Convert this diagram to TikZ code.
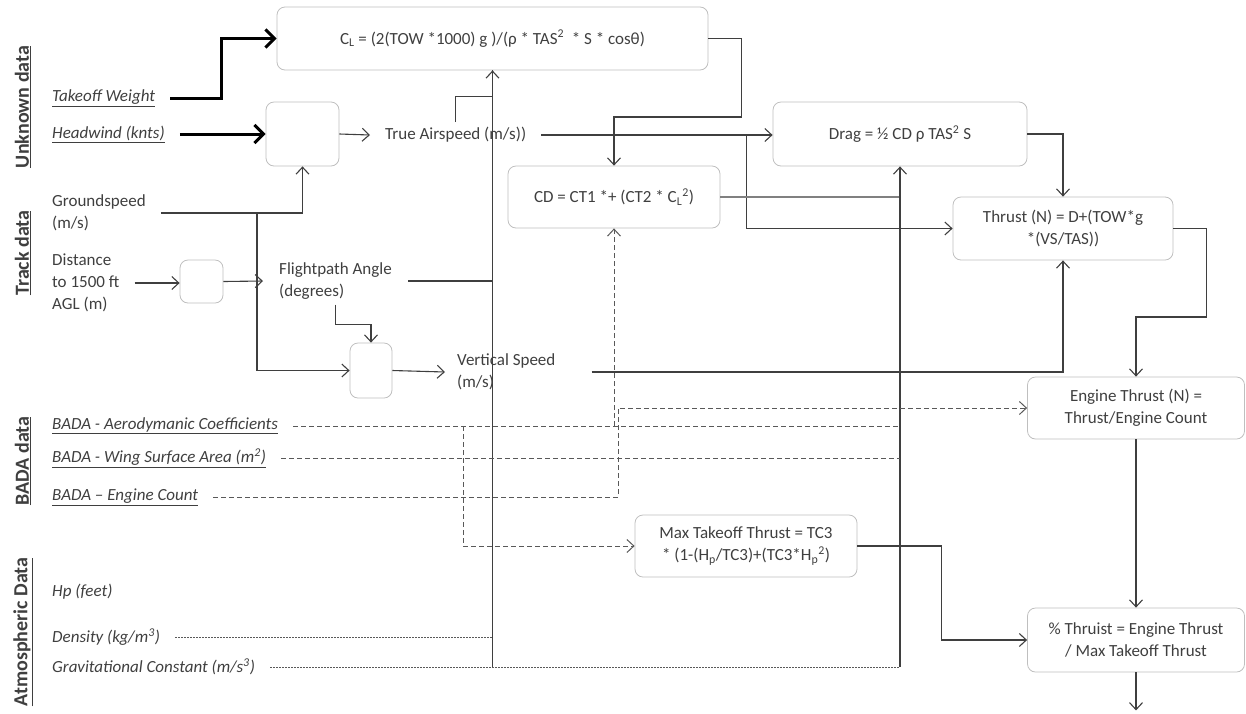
\documentclass[tikz,border=0pt]{standalone}
\usepackage{fontspec}
\setmainfont{Carlito}
\usetikzlibrary{positioning,arrows.meta}
\usepackage{xcolor}
\definecolor{inkgray}{HTML}{3F3F3F}
\definecolor{boxgray}{HTML}{BFBFBF}
\definecolor{dashgray}{HTML}{595959}

\begin{document}
\begin{tikzpicture}[
  x=1pt, y=-1pt,
  font=\fontsize{17}{22}\selectfont, text=inkgray,
  box/.style={draw=boxgray, line width=0.8pt, rounded corners=8pt,
              align=center, inner sep=0pt},
  src/.style={anchor=west, align=left, inner xsep=15pt, inner ysep=3pt},
  lbl/.style={anchor=west, align=left, inner ysep=5pt},
  grp/.style={rotate=90, font=\fontsize{20}{24}\selectfont\bfseries},
  ln/.style={line width=1.1pt, draw=inkgray},
  arr/.style={ln, -{Straight Barb[length=7pt,width=13pt]}},
  thk/.style={line width=3pt, draw=black, -{Straight Barb[length=9pt,width=18pt]}},
  dsh/.style={line width=1pt, draw=dashgray, dash pattern=on 5pt off 3pt},
  darr/.style={dsh, -{Straight Barb[length=7pt,width=13pt]}},
  dot/.style={line width=1pt, draw=dashgray, dash pattern=on 2pt off 1pt}
]
  \useasboundingbox (0,0) rectangle (1246,713);

  % Group labels
  \node[grp] (gunk)  at (23,107) {\underline{Unknown data}};
  \node[grp] (gtrk)  at (23,253) {\underline{Track data}};
  \node[grp] (gbada) at (23,461) {\underline{BADA data}};
  \node[grp] (gatm)  at (23,632) {\underline{Atmospheric Data}};

  % Inputs
  \node[src] (tow)  at (37,98)  {\underline{\textit{Takeoff Weight}}};
  \node[src] (hw)   at (37,134) {\underline{\textit{Headwind (knts)}}};
  \node[src] (gs)   at (37,213) {Groundspeed\\(m/s)};
  \node[src] (dist) at (37,283) {Distance\\to 1500 ft\\AGL (m)};
  \node[src] (aero) at (37,426) {\underline{\textit{BADA - Aerodymanic Coefficients}}};
  \node[src] (wing) at (37,458) {\underline{\textit{BADA - Wing Surface Area (m\textsuperscript{2})}}};
  \node[src] (engc) at (37,497) {\underline{\textit{BADA -- Engine Count}}};
  \node[src] (hp)   at (37,592) {\textit{Hp (feet)}};
  \node[src] (dens) at (37,637) {\textit{Density (kg/m\textsuperscript{3})}};
  \node[src] (grav) at (37,667) {\textit{Gravitational Constant (m/s\textsuperscript{3})}};

  % Blocks
  \node[box, minimum width=431pt, minimum height=63pt] (cl) at (492.5,38.5)
    {C\textsubscript{L} = (2(TOW *1000) g )/(ρ * TAS\textsuperscript{2}\ \ * S * cosθ)};
  \node[box, minimum width=73pt, minimum height=64pt] (box1) at (302.5,134) {};
  \node[box, minimum width=43pt, minimum height=43pt] (box2) at (201.5,281.5) {};
  \node[box, minimum width=42pt, minimum height=55pt] (box3) at (371,370.5) {};
  \node[box, minimum width=254pt, minimum height=64pt] (drag) at (900,134)
    {Drag = ½ CD ρ TAS\textsuperscript{2} S};
  \node[box, minimum width=212pt, minimum height=62pt] (cd) at (614,197)
    {CD = CT1 *+ (CT2 * C\textsubscript{L}\textsuperscript{2})};
  \node[box, minimum width=220pt, minimum height=63pt] (thrust) at (1063,228.5)
    {Thrust (N) = D+(TOW*g\\*(VS/TAS))};
  \node[box, minimum width=217pt, minimum height=62pt] (eng) at (1136,408)
    {Engine Thrust (N) =\\Thrust/Engine Count};
  \node[box, minimum width=222pt, minimum height=62pt] (max) at (746,546)
    {Max Takeoff Thrust = TC3\\* (1-(H\textsubscript{p}/TC3)+(TC3*H\textsubscript{p}\textsuperscript{2})};
  \node[box, minimum width=217pt, minimum height=64pt] (pct) at (1136,640)
    {\% Thruist = Engine Thrust\\/ Max Takeoff Thrust};
  \coordinate[below=38pt of pct] (pctout);

  % Derived values
  \node[lbl, inner xsep=15pt] (tas) at (370,135) {True Airspeed (m/s))};
  \node[lbl, inner xsep=16pt] (fpa) at (263,281) {Flightpath Angle\\(degrees)};
  \node[lbl, inner xsep=12pt] (vs)  at (445,372) {Vertical Speed\\(m/s)};

  % Unknown data
  \draw[thk] (tow.east) -- ++(51,0) |- (cl.west);
  \draw[thk] (hw.east) -- (hw.east -| box1.west);

  % Track data
  \draw[arr] (gs.east) -| (box1.south);
  \draw[arr] ([xshift=96pt]gs.east) |- (box3.west);
  \draw[arr] (dist.east) -- (dist.east -| box2.west);
  \draw[arr] (box2.east) -- (fpa.west);
  \draw[arr] (fpa.south) -- ++(0,20) -| (box3.north);
  \draw[arr] (box3.east) -- (vs.west);
  \draw[arr] (box1.east) -- (tas.west);

  % Into C_L
  \draw[ln]  (fpa.east) -- (fpa.east -| cl.south);
  \draw[ln]  (tas.north) -- ++(0,-26) -| (cl.south);
  \draw[arr] (grav.east -| cl.south) -- (cl.south);

  % Drag and thrust
  \draw[arr] (cl.east) -- ++(33,0) -- ++(0,78.5) -| (cd.north);
  \draw[arr] (tas.east) -- (tas.east -| drag.west);
  \draw[arr] ([xshift=205pt]tas.east) |- (thrust.west);
  \draw[ln, line width=1.8pt, draw=gray] (cd.east) -- (cd.east -| drag.south);
  \draw[arr] (grav.east -| drag.south) -- (drag.south);
  \draw[arr] (drag.east) -| (thrust.north);
  \draw[arr, shorten <=24pt] (vs.east) -| (thrust.south);
  \draw[arr] (thrust.east) -- ++(33,0) -- ++(0,88.5) -| (eng.north);
  \draw[arr] (eng) -- (pct);
  \draw[arr] (max.east) -- ++(84,0) |- (pct.west);
  \draw[arr] (pct.south) -- (pctout);

  % BADA data
  \draw[dsh]  (aero.east) -- (aero.east -| drag.south);
  \draw[darr] (aero.east -| cd.south) -- (cd.south);
  \draw[darr] ([xshift=170pt]aero.east) |- (max.west);
  \draw[dsh]  (wing.east) -- (wing.east -| drag.south);
  \draw[darr] (engc.east) -- ++(405,0) |- (eng.west);

  % Atmospheric data
  \draw[dot] (dens.east) -- (dens.east -| cl.south);
  \draw[dot] (grav.east) -- (grav.east -| drag.south);
\end{tikzpicture}
\end{document}
